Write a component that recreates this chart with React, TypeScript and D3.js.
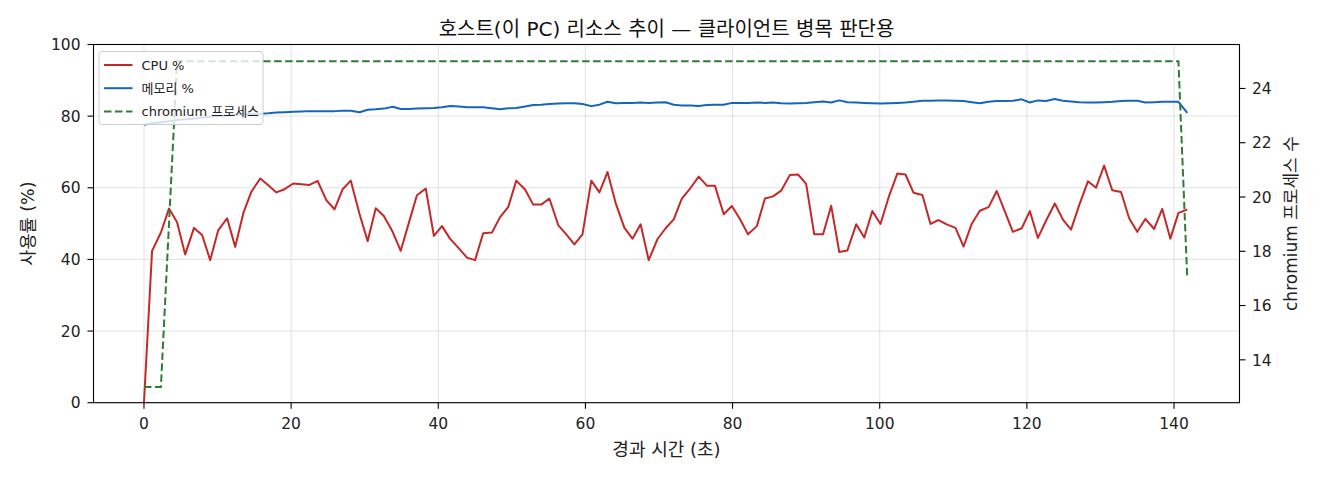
import * as d3 from 'd3';

// elapsed seconds for each sample
const times = [
  0, 1.1, 2.3, 3.4, 4.5, 5.6, 6.8, 7.9, 9.0, 10.1,
  11.3, 12.4, 13.5, 14.6, 15.8, 16.9, 18.0, 19.1, 20.3, 21.4,
  22.5, 23.6, 24.8, 25.9, 27.0, 28.1, 29.3, 30.4, 31.5, 32.6,
  33.8, 34.9, 36.0, 37.1, 38.3, 39.4, 40.5, 41.6, 42.8, 43.9,
  45.0, 46.1, 47.3, 48.4, 49.5, 50.6, 51.8, 52.9, 54.0, 55.1,
  56.3, 57.4, 58.5, 59.6, 60.8, 61.9, 63.0, 64.1, 65.3, 66.4,
  67.5, 68.6, 69.8, 70.9, 72.0, 73.1, 74.3, 75.4, 76.5, 77.6,
  78.8, 79.9, 81.0, 82.1, 83.3, 84.4, 85.5, 86.6, 87.8, 88.9,
  90.0, 91.1, 92.3, 93.4, 94.5, 95.6, 96.8, 97.9, 99.0, 100.1,
  101.3, 102.4, 103.5, 104.6, 105.8, 106.9, 108.0, 109.1, 110.3, 111.4,
  112.5, 113.6, 114.8, 115.9, 117.0, 118.1, 119.3, 120.4, 121.5, 122.6,
  123.8, 124.9, 126.0, 127.1, 128.3, 129.4, 130.5, 131.6, 132.8, 133.9,
  135.0, 136.1, 137.3, 138.4, 139.5, 140.6, 141.8,
];

const cpuPct = [
  0, 42.4, 47.5, 54.2, 50.4, 41.4, 48.8, 46.8, 39.8, 48.2,
  51.5, 43.5, 52.9, 58.9, 62.6, 60.7, 58.7, 59.6, 61.2, 61.0,
  60.8, 61.9, 56.5, 54.0, 59.6, 62.0, 52.7, 45.1, 54.3, 52.1,
  47.7, 42.4, 50.2, 57.9, 59.8, 46.6, 49.3, 45.8, 43.1, 40.5,
  39.8, 47.3, 47.5, 51.8, 54.6, 62.0, 59.5, 55.3, 55.3, 57.0,
  49.6, 47.0, 44.2, 47.0, 62.0, 58.7, 64.4, 55.8, 48.8, 45.8,
  49.8, 39.8, 45.7, 48.7, 51.2, 57.0, 60.0, 63.1, 60.6, 60.6,
  52.6, 54.9, 51.3, 47.0, 49.3, 57.0, 57.6, 59.2, 63.6, 63.7,
  61.1, 47.0, 47.0, 55.0, 42.1, 42.5, 49.8, 46.1, 53.5, 49.9,
  57.9, 64.0, 63.7, 58.6, 58.0, 49.9, 51.0, 49.8, 48.8, 43.6,
  49.9, 53.6, 54.6, 59.1, 53.4, 47.7, 48.7, 53.5, 46.0, 50.8,
  55.6, 51.1, 48.3, 55.1, 61.8, 60.0, 66.2, 59.3, 58.8, 51.5,
  47.7, 51.3, 48.5, 54.1, 45.8, 53.0, 53.9,
];

const memPct = [
  77.6, 78.0, 78.3, 78.6, 78.9, 79.1, 79.3, 79.6, 79.8, 80.0,
  80.2, 80.4, 80.5, 80.6, 80.7, 80.8, 81.0, 81.1, 81.2, 81.3,
  81.4, 81.4, 81.4, 81.4, 81.5, 81.5, 81.1, 81.8, 81.9, 82.1,
  82.6, 82.0, 82.0, 82.1, 82.2, 82.3, 82.5, 82.8, 82.7, 82.5,
  82.5, 82.5, 82.2, 81.9, 82.2, 82.3, 82.7, 83.1, 83.2, 83.4,
  83.5, 83.6, 83.6, 83.4, 82.8, 83.2, 84.0, 83.6, 83.7, 83.7,
  83.8, 83.7, 83.8, 83.9, 83.2, 83.0, 83.0, 82.8, 83.1, 83.2,
  83.2, 83.7, 83.7, 83.7, 83.8, 83.7, 83.8, 83.6, 83.5, 83.6,
  83.7, 83.9, 84.1, 83.8, 84.4, 83.9, 83.8, 83.7, 83.6, 83.5,
  83.6, 83.7, 83.8, 84.0, 84.3, 84.3, 84.4, 84.4, 84.3, 84.2,
  83.9, 83.6, 84.0, 84.2, 84.2, 84.3, 84.7, 83.8, 84.4, 84.2,
  84.8, 84.3, 84.1, 83.9, 83.8, 83.8, 83.9, 84.0, 84.2, 84.3,
  84.3, 83.8, 83.9, 84.0, 84.0, 84.0, 80.9,
];

const chromiumProcs = [
  13, 13, 13, 19, 25, 25, 25, 25, 25, 25,
  25, 25, 25, 25, 25, 25, 25, 25, 25, 25,
  25, 25, 25, 25, 25, 25, 25, 25, 25, 25,
  25, 25, 25, 25, 25, 25, 25, 25, 25, 25,
  25, 25, 25, 25, 25, 25, 25, 25, 25, 25,
  25, 25, 25, 25, 25, 25, 25, 25, 25, 25,
  25, 25, 25, 25, 25, 25, 25, 25, 25, 25,
  25, 25, 25, 25, 25, 25, 25, 25, 25, 25,
  25, 25, 25, 25, 25, 25, 25, 25, 25, 25,
  25, 25, 25, 25, 25, 25, 25, 25, 25, 25,
  25, 25, 25, 25, 25, 25, 25, 25, 25, 25,
  25, 25, 25, 25, 25, 25, 25, 25, 25, 25,
  25, 25, 25, 25, 25, 25, 17,
];

const xTicks = [0, 20, 40, 60, 80, 100, 120, 140];
const pctTicks = [0, 20, 40, 60, 80, 100];
const procTicks = [14, 16, 18, 20, 22, 24];

const title = '호스트(이 PC) 리소스 추이 — 클라이언트 병목 판단용';
const xLabel = '경과 시간 (초)';
const yLabel = '사용률 (%)';
const y2Label = 'chromium 프로세스 수';

const series = [
  { name: 'CPU %', color: '#c62828', dash: undefined },
  { name: '메모리 %', color: '#1565c0', dash: undefined },
  { name: 'chromium 프로세스', color: '#2e7d32', dash: '7.5,3.5' },
];

const width = 1320;
const height = 480;
const left = 93.5;
const right = 1239.5;
const top = 44.5;
const bottom = 402.7;
const font = '"DejaVu Sans", "Noto Sans CJK KR", sans-serif';

export default function App() {
  const x = d3.scaleLinear([-6.86, 148.9], [left, right]);
  const y = d3.scaleLinear([0, 100], [bottom, top]);
  const y2 = d3.scaleLinear([12.42, 25.62], [bottom, top]);

  const pctLine = d3
    .line<number>()
    .x((_, i) => x(times[i]))
    .y((d) => y(d));
  const procLine = d3
    .line<number>()
    .x((_, i) => x(times[i]))
    .y((d) => y2(d));

  return (
    <svg
      width={width}
      height={height}
      style={{ position: 'absolute', left: 0, top: 0, background: '#fff' }}
      fontFamily={font}>
      <rect width={width} height={height} fill='#fff' />

      {/* grid */}
      <g stroke='#b0b0b0' strokeOpacity={0.35} strokeWidth={1}>
        {xTicks.map((t) => (
          <line key={`gx${t}`} x1={x(t)} x2={x(t)} y1={top} y2={bottom} />
        ))}
        {pctTicks.map((t) => (
          <line key={`gy${t}`} x1={left} x2={right} y1={y(t)} y2={y(t)} />
        ))}
      </g>

      <path d={pctLine(cpuPct) ?? ''} fill='none' stroke={series[0].color} strokeWidth={2} strokeLinejoin='round' />
      <path d={pctLine(memPct) ?? ''} fill='none' stroke={series[1].color} strokeWidth={2} strokeLinejoin='round' />
      <path
        d={procLine(chromiumProcs) ?? ''}
        fill='none'
        stroke={series[2].color}
        strokeWidth={2}
        strokeDasharray={series[2].dash}
      />

      {/* spines */}
      <rect x={left} y={top} width={right - left} height={bottom - top} fill='none' stroke='#000' strokeWidth={1.1} />

      {/* ticks */}
      <g fontSize={15.5} fill='#222'>
        {xTicks.map((t) => (
          <g key={`xt${t}`}>
            <line x1={x(t)} x2={x(t)} y1={bottom} y2={bottom + 6} stroke='#000' strokeWidth={1.1} />
            <text x={x(t)} y={bottom + 26.5} textAnchor='middle'>
              {t}
            </text>
          </g>
        ))}
        {pctTicks.map((t) => (
          <g key={`yt${t}`}>
            <line x1={left - 6} x2={left} y1={y(t)} y2={y(t)} stroke='#000' strokeWidth={1.1} />
            <text x={left - 13} y={y(t) + 5.7} textAnchor='end'>
              {t}
            </text>
          </g>
        ))}
        {procTicks.map((t) => (
          <g key={`y2t${t}`}>
            <line x1={right} x2={right + 6} y1={y2(t)} y2={y2(t)} stroke='#000' strokeWidth={1.1} />
            <text x={right + 12.5} y={y2(t) + 5.7}>
              {t}
            </text>
          </g>
        ))}
      </g>

      {/* labels */}
      <g fill='#222'>
        <text x={(left + right) / 2} y={449.5} textAnchor='middle' dominantBaseline='central' fontSize={18}>
          {xLabel}
        </text>
        <text
          transform={`translate(27.5, ${(top + bottom) / 2}) rotate(-90)`}
          textAnchor='middle'
          dominantBaseline='central'
          fontSize={17.5}>
          {yLabel}
        </text>
        <text
          transform={`translate(1291, ${(top + bottom) / 2}) rotate(-90)`}
          textAnchor='middle'
          dominantBaseline='central'
          fontSize={17}>
          {y2Label}
        </text>
      </g>
      <text
        x={(left + right) / 2}
        y={29}
        textAnchor='middle'
        dominantBaseline='central'
        fontSize={20}
        fill='#111'>
        {title}
      </text>

      {/* legend */}
      <g>
        <rect x={99} y={51.5} width={164} height={73} rx={3} fill='#fff' fillOpacity={0.8} stroke='#cccccc' strokeWidth={1} />
        {series.map((s, i) => {
          const cy = 65 + i * 23.2;
          return (
            <g key={s.name}>
              <line x1={104} x2={132.5} y1={cy} y2={cy} stroke={s.color} strokeWidth={2} strokeDasharray={s.dash} />
              <text x={141.5} y={cy} dominantBaseline='central' fontSize={13} fill='#222'>
                {s.name}
              </text>
            </g>
          );
        })}
      </g>
    </svg>
  );
}
